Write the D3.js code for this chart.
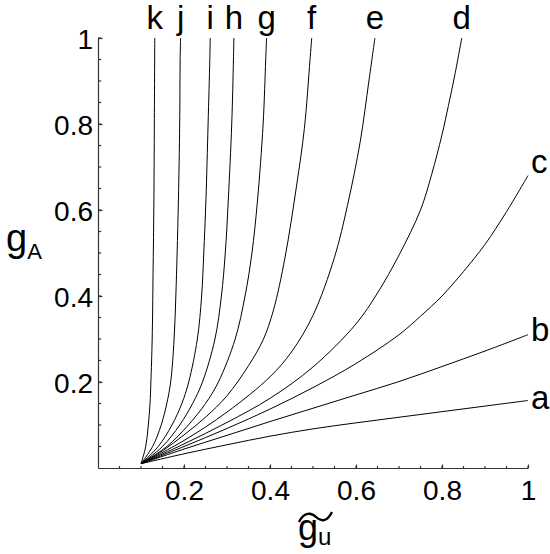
<!DOCTYPE html>
<html>
<head>
<meta charset="utf-8">
<script src="https://cdn.jsdelivr.net/npm/d3@7"></script>
<style>
  body { margin: 0; background: #fff; }
  text { font-family: "Liberation Sans", Arial, sans-serif; fill: #000; }
</style>
</head>
<body>
<div id="container"></div>
<script>
// Données : [g_u, g_A]
const curveA = [[0.1,0.01],[0.2,0.033],[0.3,0.054],[0.4,0.074],[0.5,0.091],[0.6,0.105],[0.7,0.118],[0.8,0.131],[0.9,0.144],[1.0,0.157]];
const curveB = [[0.1,0.01],[0.2,0.044],[0.3,0.076],[0.4,0.108],[0.5,0.139],[0.6,0.17],[0.7,0.201],[0.8,0.236],[0.9,0.272],[1.0,0.31]];
const curveC = [[0.1,0.01],[0.2,0.05],[0.3,0.092],[0.4,0.137],[0.5,0.187],[0.6,0.243],[0.7,0.31],[0.75,0.353],[0.8,0.4],[0.85,0.457],[0.9,0.52],[0.95,0.596],[1.0,0.68]];
const curveD = [[0.1,0.01],[0.2,0.056],[0.3,0.106],[0.4,0.162],[0.5,0.235],[0.6,0.335],[0.65,0.407],[0.7,0.495],[0.75,0.6],[0.776,0.683],[0.8,0.775],[0.815,0.843],[0.83,0.915],[0.846,1.0]];
const curveE = [[0.1,0.01],[0.2,0.064],[0.3,0.13],[0.4,0.212],[0.45,0.27],[0.5,0.355],[0.55,0.49],[0.58,0.61],[0.61,0.76],[0.63,0.9],[0.644,1.0]];
const curveF = [[0.1,0.01],[0.15,0.04],[0.2,0.077],[0.25,0.118],[0.3,0.168],[0.35,0.238],[0.384,0.298],[0.408,0.367],[0.435,0.49],[0.462,0.658],[0.48,0.79],[0.493,0.949],[0.497,1.0]];
const curveG = [[0.1,0.01],[0.16,0.05],[0.21,0.1],[0.25,0.15],[0.28,0.2],[0.319,0.3],[0.342,0.4],[0.358,0.5],[0.371,0.623],[0.384,0.8],[0.39,0.949],[0.392,1.0]];
const curveH = [[0.1,0.01],[0.15,0.05],[0.19,0.1],[0.22,0.15],[0.243,0.2],[0.272,0.3],[0.287,0.4],[0.296,0.5],[0.303,0.623],[0.311,0.8],[0.315,0.949],[0.316,1.0]];
const curveI = [[0.1,0.01],[0.14,0.05],[0.172,0.1],[0.195,0.15],[0.211,0.2],[0.231,0.3],[0.241,0.4],[0.246,0.5],[0.251,0.623],[0.256,0.8],[0.26,0.949],[0.261,1.0]];
const curveJ = [[0.1,0.01],[0.127,0.05],[0.147,0.1],[0.16,0.15],[0.169,0.2],[0.177,0.3],[0.181,0.4],[0.184,0.5],[0.187,0.623],[0.19,0.8],[0.191,0.949],[0.192,1.0]];
const curveK = [[0.1,0.01],[0.111,0.05],[0.117,0.1],[0.121,0.15],[0.123,0.2],[0.126,0.3],[0.128,0.45],[0.13,0.623],[0.131,0.8],[0.132,1.0]];

const curveNames = ["a","b","c","d","e","f","g","h","i","j","k"];
const curves = [curveA, curveB, curveC, curveD, curveE, curveF, curveG, curveH, curveI, curveJ, curveK];

const majorTicks = [0.2, 0.4, 0.6, 0.8, 1];
const tickLabels = ["0.2", "0.4", "0.6", "0.8", "1"];
const minorTicks = d3.range(1, 21).map(i => i * 0.05);

// Dimensions
const width = 550;
const height = 554;

const x = d3.scaleLinear().domain([0, 1]).range([98, 528]);
const y = d3.scaleLinear().domain([0, 1]).range([468, 38]);

const svg = d3.select("#container")
    .append("svg")
    .attr("width", width)
    .attr("height", height);

svg.append("rect").attr("width", width).attr("height", height).attr("fill", "#fff");

// Axes (graduations vers l'intérieur)
const axisColor = "#333";
const xAxis = d3.axisBottom(x)
    .tickValues(majorTicks)
    .tickFormat((d, i) => tickLabels[i])
    .tickSizeInner(-3.5)
    .tickSizeOuter(0)
    .tickPadding(12);
const yAxis = d3.axisLeft(y)
    .tickValues(majorTicks)
    .tickFormat((d, i) => tickLabels[i])
    .tickSizeInner(-4.5)
    .tickSizeOuter(0)
    .tickPadding(5);

const gx = svg.append("g")
    .attr("transform", `translate(0,${y(0)})`)
    .call(xAxis);
const gy = svg.append("g")
    .attr("transform", `translate(${x(0)},0)`)
    .call(yAxis);

[gx, gy].forEach(g => {
    g.select(".domain").attr("stroke", axisColor).attr("stroke-width", 1.2);
    g.selectAll(".tick line").attr("stroke", axisColor).attr("stroke-width", 1.2);
    g.selectAll(".tick text")
        .attr("font-family", "Liberation Sans, Arial, sans-serif")
        .attr("font-size", 28)
        .attr("fill", "#000");
});
gx.selectAll(".tick text").attr("dy", "0.71em");
gy.selectAll(".tick text").attr("dy", "0.36em");

// Petites graduations
svg.append("g").selectAll("line")
    .data(minorTicks)
    .enter().append("line")
    .attr("x1", d => x(d)).attr("x2", d => x(d))
    .attr("y1", y(0)).attr("y2", y(0) - 2)
    .attr("stroke", axisColor).attr("stroke-width", 1.2);
svg.append("g").selectAll("line")
    .data(minorTicks)
    .enter().append("line")
    .attr("y1", d => y(d)).attr("y2", d => y(d))
    .attr("x1", x(0)).attr("x2", x(0) + 3.2)
    .attr("stroke", axisColor).attr("stroke-width", 1.2);

// Courbes
const line = d3.line()
    .x(d => x(d[0]))
    .y(d => y(d[1]))
    .curve(d3.curveCatmullRom.alpha(0.5));

svg.append("g").selectAll("path")
    .data(curves)
    .enter().append("path")
    .attr("d", line)
    .attr("fill", "none")
    .attr("stroke", "#000")
    .attr("stroke-width", 1);

// Étiquettes des courbes
curves.forEach((c, i) => {
    const end = c[c.length - 1];
    const t = svg.append("text")
        .attr("font-size", 33)
        .text(curveNames[i]);
    if (end[1] >= 1) {
        t.attr("x", x(end[0])).attr("y", y(end[1]) - 9).attr("text-anchor", "middle");
    } else {
        const shift = curveNames[i] === "c" ? -3 : (curveNames[i] === "b" ? 6 : 9);
        t.attr("x", x(end[0]) + 3).attr("y", y(end[1]) + shift).attr("text-anchor", "start");
    }
});

// Titres des axes
const yLabel = svg.append("text").attr("x", 6).attr("y", 251);
yLabel.append("tspan").attr("font-size", 38).text("g");
yLabel.append("tspan").attr("font-size", 22).attr("dy", 8).text("A");

const xLabel = svg.append("text").attr("x", 298).attr("y", 540);
xLabel.append("tspan").attr("font-size", 36).text("g");
xLabel.append("tspan").attr("font-size", 24).attr("dy", 5).text("u");

svg.append("path")
    .attr("d", "M299,522 C304,512 311,512 316,517 C321,522 327,522 332,512")
    .attr("fill", "none")
    .attr("stroke", "#000")
    .attr("stroke-width", 2.4);
</script>
</body>
</html>
